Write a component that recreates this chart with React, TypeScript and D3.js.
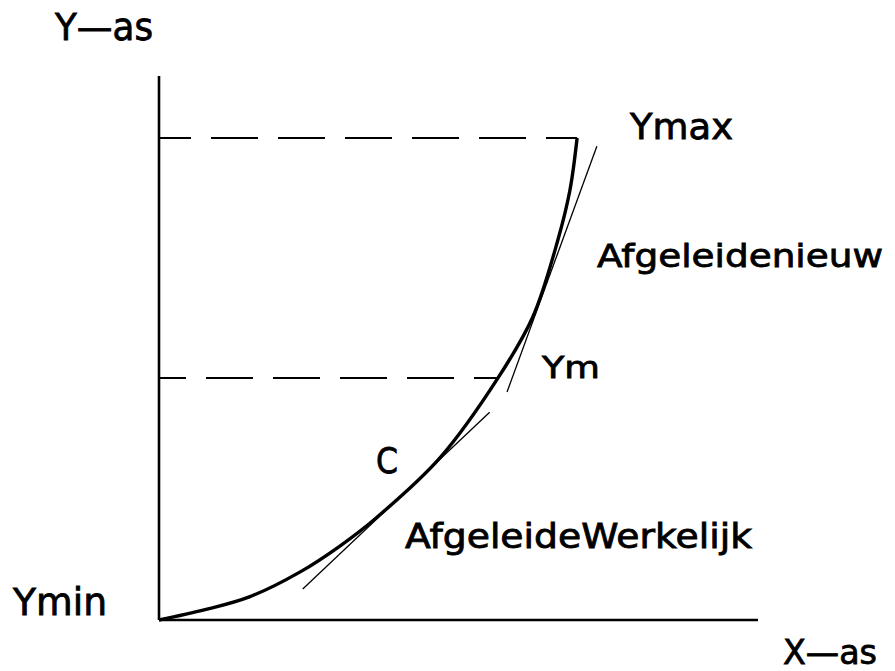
import React from "react";
import * as d3 from "d3";

// Curve C (data units: x 0..100, y 0..100)
const curveX = [0, 7.7, 15.2, 23.5, 30.2, 36.4, 46.9, 56.6, 62.4, 66.6, 68.6, 69.8];
const curveY = [0, 1.9, 4.3, 8.8, 13.6, 18.9, 29.8, 44.5, 55.7, 69.9, 79.0, 88.6];

// Levels
const yMax = 88.6;
const yM = 44.5;
const xAtYMax = 69.8;
const xAtYM = 56.6;

// Tangent lines (start/end)
const tanNieuwX = [73.1, 58.1];
const tanNieuwY = [87.1, 41.9];
const tanWerkX = [24.0, 55.2];
const tanWerkY = [5.7, 38.2];

const W = 895;
const H = 671;
const FONT = "'DejaVu Sans', 'Liberation Sans', sans-serif";

export default function App() {
  const x = d3.scaleLinear().domain([0, 100]).range([159, 758]);
  const y = d3.scaleLinear().domain([0, 100]).range([620, 76]);

  const pts: [number, number][] = curveX.map((v, i) => [v, curveY[i]]);
  const line = d3
    .line<[number, number]>()
    .x((d) => x(d[0]))
    .y((d) => y(d[1]))
    .curve(d3.curveCatmullRom.alpha(0.5));

  const lbl = (
    text: string,
    px: number,
    py: number,
    size: number,
    len: number
  ) => (
    <text
      x={px}
      y={py}
      fontFamily={FONT}
      fontSize={size}
      textLength={len}
      lengthAdjust="spacingAndGlyphs"
      fill="#000"
      stroke="#000"
      strokeWidth={0.8}
    >
      {text}
    </text>
  );

  return (
    <svg
      width={W}
      height={H}
      style={{ position: "absolute", left: 0, top: 0, background: "#fff" }}
    >
      <rect width={W} height={H} fill="#fff" />
      {/* axes */}
      <line x1={x(0)} y1={y(0)} x2={x(0)} y2={y(100)} stroke="#000" strokeWidth={2.6} />
      <line x1={x(0)} y1={y(0)} x2={x(100)} y2={y(0)} stroke="#000" strokeWidth={2.6} />

      {/* dashed levels */}
      <line
        x1={x(0)}
        y1={y(yMax)}
        x2={x(xAtYMax)}
        y2={y(yMax)}
        stroke="#000"
        strokeWidth={2}
        strokeDasharray="47 20"
        strokeDashoffset={15}
      />
      <line
        x1={x(0)}
        y1={y(yM)}
        x2={x(xAtYM)}
        y2={y(yM)}
        stroke="#000"
        strokeWidth={2}
        strokeDasharray="47 20"
        strokeDashoffset={20}
      />

      {/* tangents */}
      <line
        x1={x(tanNieuwX[0])}
        y1={y(tanNieuwY[0])}
        x2={x(tanNieuwX[1])}
        y2={y(tanNieuwY[1])}
        stroke="#000"
        strokeWidth={1.3}
      />
      <line
        x1={x(tanWerkX[0])}
        y1={y(tanWerkY[0])}
        x2={x(tanWerkX[1])}
        y2={y(tanWerkY[1])}
        stroke="#000"
        strokeWidth={1.3}
      />

      {/* curve */}
      <path d={line(pts) || ""} fill="none" stroke="#000" strokeWidth={3.4} />

      {/* labels */}
      {lbl("Y\u2014as", 55, 40, 37, 98)}
      {lbl("Ymin", 13, 615, 37, 94)}
      {lbl("X\u2014as", 783, 664, 33, 94)}
      {lbl("Ymax", 630, 139, 36, 103)}
      {lbl("Ym", 542, 378, 31, 58)}
      {lbl("Afgeleidenieuw", 597, 267, 32, 286)}
      {lbl("AfgeleideWerkelijk", 405, 548, 33, 347)}
      {lbl("C", 376, 473, 36, 22)}
    </svg>
  );
}
